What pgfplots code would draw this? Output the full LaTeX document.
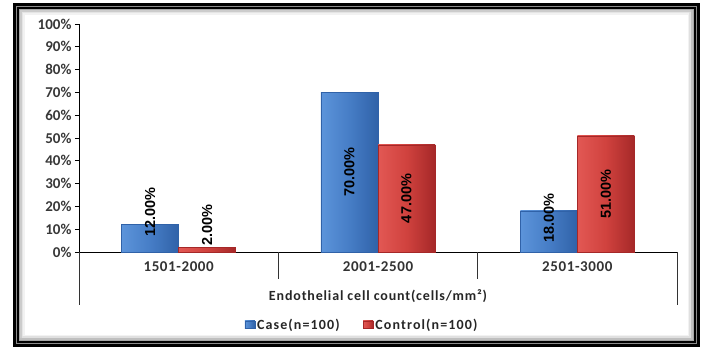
\documentclass[border=0pt]{standalone}
\usepackage{fontspec}
\setmainfont{Carlito}
\newfontfamily\arialf{Liberation Sans}
\usepackage{pgfplots}
\pgfplotsset{compat=1.18}
\definecolor{cblue}{RGB}{70,125,198}
\definecolor{cbluel}{RGB}{92,148,218}
\definecolor{cblued}{RGB}{48,98,168}
\definecolor{cred}{RGB}{208,66,62}
\definecolor{credl}{RGB}{226,88,84}
\definecolor{credd}{RGB}{165,40,40}
\pgfplotsset{
  bluebar/.style={ybar, bar width=0.286, bar shift=-0.143, draw=cblued, left color=cbluel, right color=cblued, middle color=cblue},
  redbar/.style={ybar, bar width=0.286, bar shift=0.143, draw=credd, left color=credl, right color=credd, middle color=cred},
}
\begin{document}
\begin{tikzpicture}[x=1pt,y=1pt]
\path (-79,-97) rectangle (625,252);
% frame
\draw[line width=3pt] (-64.5,247.5) rectangle (619.5,-93.5);
\draw[black!45, line width=1pt] (-62.5,245.5) rectangle (617.5,-91.5);
\draw[line width=1.2pt] (-61,244) rectangle (616,-90);
\draw[black!35, line width=1.5pt] (-59.5,242.5) rectangle (614.5,-88.5);
\draw[black!20, line width=1.5pt] (-58,241) rectangle (613,-87);
\draw[black!10, line width=1.5pt] (-56.5,239.5) rectangle (611.5,-85.5);
\draw[black!5, line width=1.5pt] (-55,238) rectangle (610,-84);
\draw[black!25, line width=2pt] (612.5,242) -- (612.5,-87) -- (-59,-87);
\draw[black!12, line width=2pt] (610.5,240) -- (610.5,-85) -- (-57,-85);
\begin{axis}[
  at={(0,0)}, anchor=south west,
  scale only axis, width=598pt, height=228pt,
  xmin=-0.5, xmax=2.5, ymin=0, ymax=100,
  axis x line*=bottom, axis y line*=left, axis line style={-, black, line width=0.8pt},
  xtick={0,1,2}, xticklabels={1501-2000,2001-2500,2501-3000},
  x tick style={draw=none},
  /pgf/number format/assume math mode=true,
  xticklabel style={font=\bfseries\fontsize{15}{18}\selectfont\addfontfeatures{LetterSpace=4}, text=black!80, yshift=-2pt},
  ytick={0,10,...,100},
  yticklabel={\pgfmathprintnumber{\tick}\%},
  yticklabel style={font=\bfseries\fontsize{15}{18}\selectfont, text=black!78},
  y tick style={black, line width=0.8pt},
  tick align=outside, major tick length=4pt,
  xlabel={Endothelial cell count(cells/mm²)},
  every axis x label/.style={at={(axis description cs:0.5,-0.193)}, anchor=center, font=\bfseries\fontsize{14}{17}\selectfont\addfontfeatures{LetterSpace=6}, text=black!85},
  clip=false,
  legend style={at={(axis description cs:0.4733,-0.32)}, anchor=center, draw=none, fill=none,
    legend columns=2, font=\bfseries\fontsize{14}{17}\selectfont\addfontfeatures{LetterSpace=8}, text=black!85},
  legend image code/.code={\fill[#1] (0pt,-3.5pt) rectangle (10pt,4pt);},
]
\addplot[bluebar] coordinates {(0,12)};
\addlegendentry{\makebox[104pt][l]{Case(n=100)}}
\addplot[redbar] coordinates {(0,2)};
\addlegendentry{Control(n=100)}
\addplot[bluebar, forget plot] coordinates {(1,70)};
\addplot[bluebar, forget plot] coordinates {(2,18)};
\addplot[redbar, forget plot] coordinates {(1,47)};
\addplot[redbar, forget plot] coordinates {(2,51)};
\addplot[draw=none, mark=none, forget plot, nodes near coords, point meta=explicit symbolic,
  every node near coord/.append style={rotate=90, anchor=center, font=\arialf\bfseries\fontsize{14.5}{15}\selectfont, text=black}]
  coordinates {(-0.143,17.5)[12.00\%] (0.143,11.8)[2.00\%] (0.857,35)[70.00\%] (1.143,23.5)[47.00\%] (1.857,15)[18.00\%] (2.143,25.5)[51.00\%]};
\draw[black!80, line width=0.8pt] (axis cs:-0.5,0) -- (axis cs:-0.5,-23.25);
\draw[black!80, line width=0.8pt] (axis cs:2.5,0) -- (axis cs:2.5,-23.25);
\draw[black!80, line width=0.8pt] (axis cs:0.5,0) -- (axis cs:0.5,-11.8);
\draw[black!80, line width=0.8pt] (axis cs:1.5,0) -- (axis cs:1.5,-11.8);
\end{axis}
\end{tikzpicture}
\end{document}
